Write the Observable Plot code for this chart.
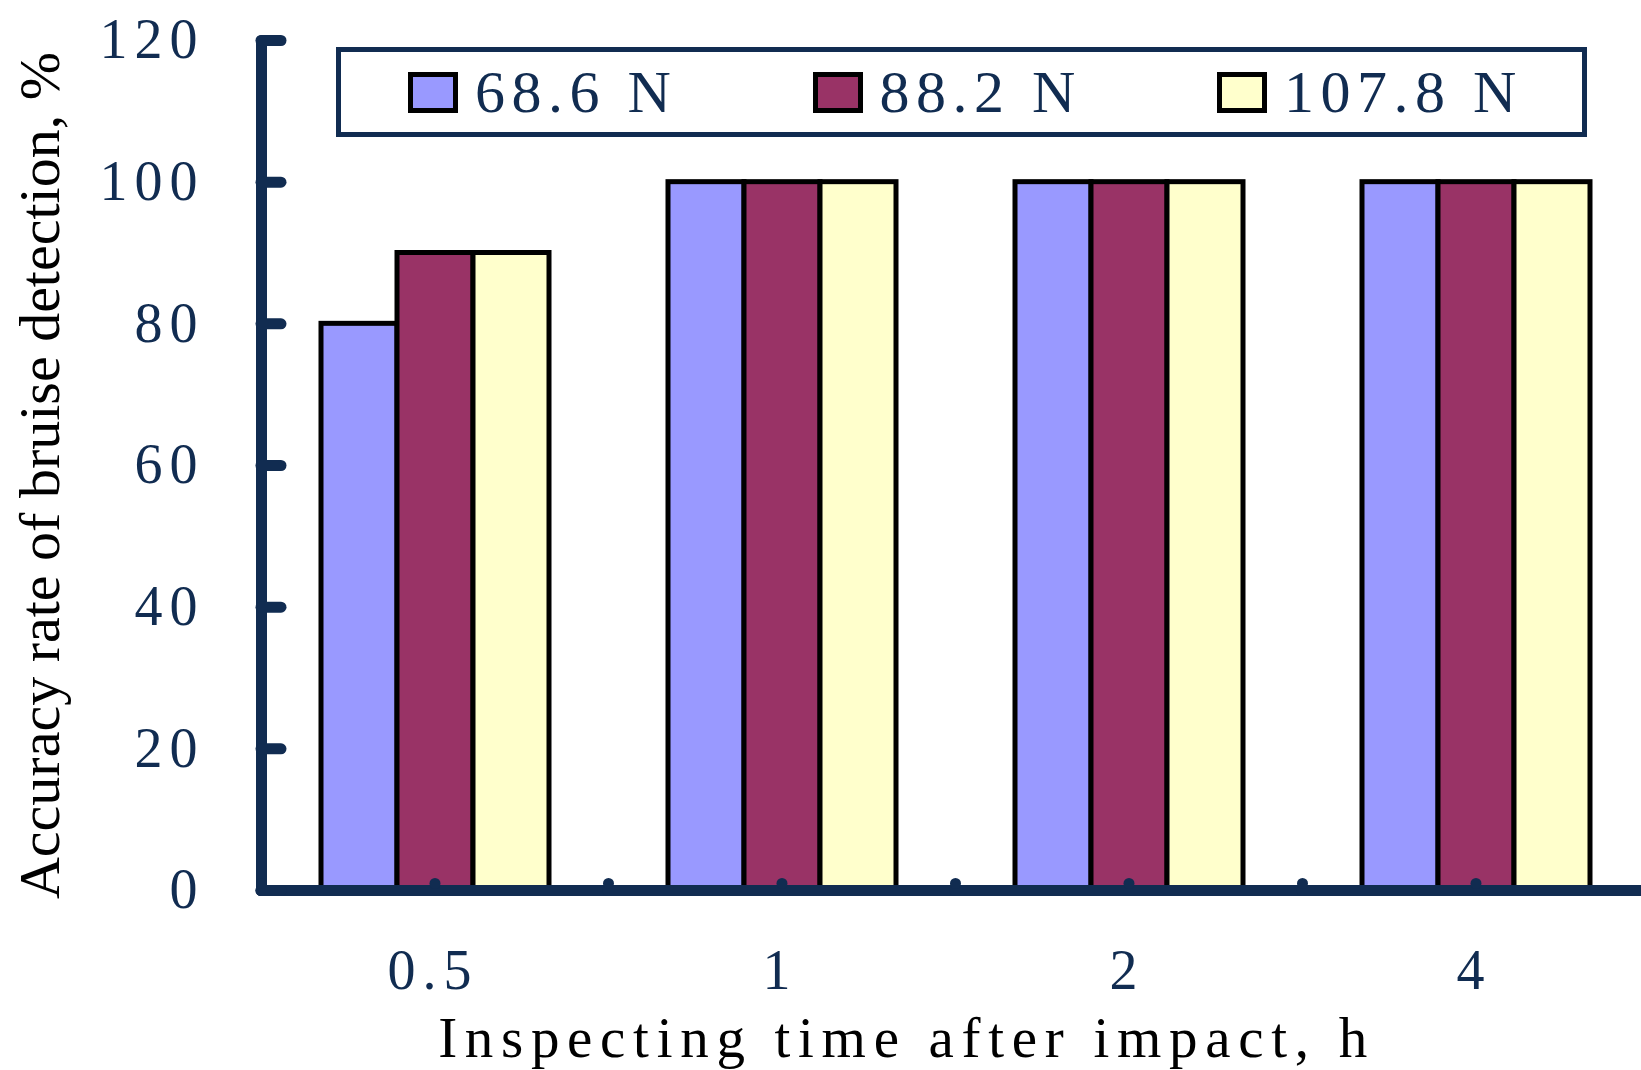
<!DOCTYPE html>
<html>
<head>
<meta charset="utf-8">
<script src="https://cdn.jsdelivr.net/npm/d3@7"></script>
<script src="https://cdn.jsdelivr.net/npm/@observablehq/plot@0.6"></script>
<style>
  html, body { margin: 0; padding: 0; background: #fff; overflow: hidden; }
  #chart { position: relative; width: 1641px; height: 1070px; }
  #chart svg text { letter-spacing: 7px; }
  #chart g[aria-description="y title"] text { letter-spacing: 0; }
  #chart g[aria-description="x title"] text { letter-spacing: 7.7px; }
  #legend {
    position: absolute; left: 336px; top: 47px; width: 1251px; height: 90px;
    box-sizing: border-box; border: 5px solid #112c51; background: #fff;
    display: flex; align-items: center; padding-left: 67px;
    font-family: "Liberation Serif", "Times New Roman", serif;
    font-size: 60px; color: #112c51; letter-spacing: 6.5px;
  }
  #legend .item { display: flex; align-items: center; width: 404.5px; flex: none; }
  #legend .sw { width: 50px; height: 41px; box-sizing: border-box; border: 5px solid #000; margin-right: 17px; flex: none; }
  #legend .lb { line-height: 60px; white-space: pre; }
</style>
</head>
<body>
<div id="chart"></div>
<script>
const navy = "#112c51";

// Inspecting time after impact (h) and impact force series
const times = ["0.5", "1", "2", "4"];
const series = ["68.6 N", "88.2 N", "107.8 N"];
const colors = ["#9999ff", "#993366", "#ffffcc"];

// Accuracy rate of bruise detection (%) per series, one value per time
const acc686 = [80, 100, 100, 100];
const acc882 = [90, 100, 100, 100];
const acc1078 = [90, 100, 100, 100];

const yTicks = [0, 20, 40, 60, 80, 100, 120];
const xTitle = "Inspecting time after impact, h";
const yTitle = "Accuracy rate of bruise detection, %";

const rows = [acc686, acc882, acc1078].flatMap((vals, s) =>
  vals.map((v, i) => ({time: times[i], series: series[s], value: v}))
);

const chart = Plot.plot({
  width: 1641,
  height: 1070,
  marginLeft: 260,
  marginRight: -9,
  marginTop: 40,
  marginBottom: 180,
  style: {
    fontFamily: "'Liberation Serif', 'Times New Roman', serif",
    background: "transparent",
    color: navy,
    overflow: "hidden"
  },
  fx: {domain: times, padding: 0, axis: null},
  x: {domain: series, paddingInner: 0, paddingOuter: 0.77, axis: null},
  y: {domain: [0, 120]},
  color: {domain: series, range: colors},
  marks: [
    Plot.barY(rows, {fx: "time", x: "series", y: "value", fill: "series", stroke: "#000", strokeWidth: 5}),
    Plot.ruleY([0], {stroke: navy, strokeWidth: 11, strokeLinecap: "round"}),
    Plot.frame({anchor: "left", facetAnchor: "left", stroke: navy, strokeWidth: 11, strokeLinecap: "round"}),
    Plot.axisY(yTicks, {
      anchor: "left", tickSize: -20, tickPadding: 77, strokeWidth: 11, strokeLinecap: "round",
      fontSize: 56, tickFormat: (d) => String(d), label: null
    }),
    // small tick bumps on the category axis: band centres and band edges
    Plot.dot([0], {frameAnchor: "bottom", dy: -7, r: 5.5, fill: navy}),
    Plot.dot([0], {frameAnchor: "bottom-left", dy: -7, r: 5.5, fill: navy}),
    Plot.text(times, {
      fx: (d) => d, text: (d) => d, frameAnchor: "bottom", textAnchor: "middle",
      dy: 98, dx: -2, lineAnchor: "bottom", fontSize: 56, fill: navy, ariaDescription: "x tick"
    }),
    Plot.text([xTitle], {
      text: (d) => d, frameAnchor: "bottom-left", facetAnchor: "left", textAnchor: "middle",
      dx: 645, dy: 166, lineAnchor: "bottom", fontSize: 57, fill: "#000", ariaDescription: "x title"
    }),
    Plot.text([yTitle], {
      text: (d) => d, frameAnchor: "left", facetAnchor: "left", textAnchor: "middle",
      rotate: -90, dx: -203, dy: 10, lineAnchor: "bottom", fontSize: 58, fill: "#000", ariaDescription: "y title"
    })
  ]
});

const container = document.getElementById("chart");
container.append(chart);

const legend = d3.select(container).append("div").attr("id", "legend");
const item = legend.selectAll(".item").data(series).join("div").attr("class", "item");
item.append("span").attr("class", "sw").style("background", (d, i) => colors[i]);
item.append("span").attr("class", "lb").text((d) => d);
</script>
</body>
</html>
